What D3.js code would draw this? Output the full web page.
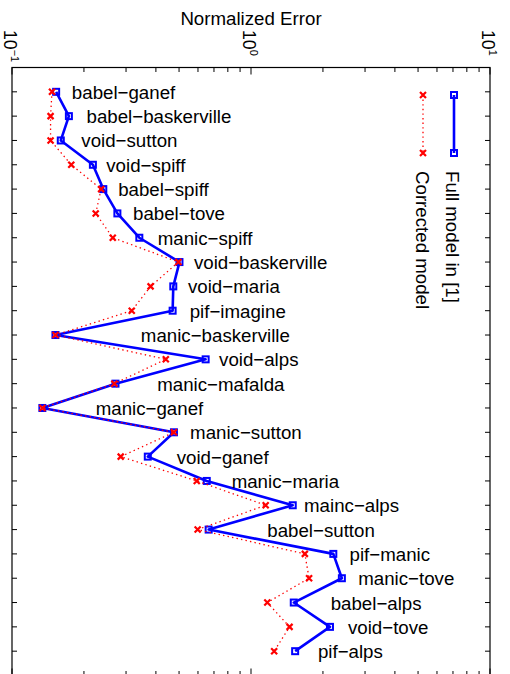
<!DOCTYPE html>
<html>
<head>
<meta charset="utf-8">
<script src="https://cdn.jsdelivr.net/npm/d3@7"></script>
<style>
  html, body { margin: 0; padding: 0; background: #fff; }
  svg { display: block; }
  text { font-family: "Liberation Sans", Arial, Helvetica, sans-serif; fill: #000; }
</style>
</head>
<body>
<svg id="chart" width="510" height="674"></svg>
<script>
// font pairs, top to bottom
const pairs = [
  'babel−ganef', 'babel−baskerville', 'void−sutton', 'void−spiff', 'babel−spiff',
  'babel−tove', 'manic−spiff', 'void−baskerville', 'void−maria', 'pif−imagine',
  'manic−baskerville', 'void−alps', 'manic−mafalda', 'manic−ganef', 'manic−sutton',
  'void−ganef', 'manic−maria', 'mainc−alps', 'babel−sutton', 'pif−manic',
  'manic−tove', 'babel−alps', 'void−tove', 'pif−alps',
];

// "Full model in [1]"
const fullModel = [
  0.153, 0.173, 0.160, 0.218, 0.241, 0.276, 0.341, 0.502, 0.473, 0.470,
  0.152, 0.646, 0.271, 0.134, 0.476, 0.370, 0.653, 1.495, 0.665, 2.21,
  2.40, 1.51, 2.14, 1.53,
];

// "Corrected model"
const corrected = [
  0.147, 0.145, 0.145, 0.177, 0.236, 0.224, 0.264, 0.497, 0.380, 0.317,
  0.152, 0.440, 0.268, 0.134, 0.476, 0.285, 0.593, 1.152, 0.598, 1.68,
  1.75, 1.17, 1.45, 1.25,
];

// where each pair name was written, in error units (like text(x, y, ...))
const labelAt = [
  0.178, 0.205, 0.195, 0.248, 0.278, 0.321, 0.407, 0.577, 0.545, 0.554,
  0.346, 0.735, 0.405, 0.224, 0.556, 0.489, 0.830, 1.667, 1.170, 2.585,
  2.81, 2.155, 2.545, 1.905,
];

const majorTicks = [0.1, 1, 10];
const majorExp = ['−1', '0', '1'];
const minorTicks = [0.2, 0.3, 0.4, 0.5, 0.6, 0.7, 0.8, 0.9, 2, 3, 4, 5, 6, 7, 8, 9];

const FONT = 18.7;
const box = { left: 12, right: 490, top: 67.5, bottom: 675.5 };

const svg = d3.select('#chart');

const x = d3.scaleLog().domain([0.1, 10]).range([box.left, box.right]);
const y = d3.scaleLinear().domain([0, pairs.length + 1]).range([box.top, box.bottom]);
const rows = d3.range(1, pairs.length + 1);

// axes box
svg.append('rect')
  .attr('x', box.left).attr('y', box.top)
  .attr('width', box.right - box.left).attr('height', box.bottom - box.top)
  .attr('fill', 'none').attr('stroke', '#000').attr('stroke-width', 1.2);

// inward ticks, all four sides
const ticks = svg.append('g').attr('stroke', '#000').attr('stroke-width', 1);
const addX = (vals, len) => {
  ticks.selectAll(null).data(vals).enter().append('line')
    .attr('x1', d => x(d)).attr('x2', d => x(d))
    .attr('y1', box.top).attr('y2', box.top + len);
  ticks.selectAll(null).data(vals).enter().append('line')
    .attr('x1', d => x(d)).attr('x2', d => x(d))
    .attr('y1', box.bottom).attr('y2', box.bottom - len);
};
addX(minorTicks, 4.5);
addX(majorTicks, 7);
ticks.selectAll(null).data(rows).enter().append('line')
  .attr('x1', box.left).attr('x2', box.left + 5)
  .attr('y1', d => y(d)).attr('y2', d => y(d));
ticks.selectAll(null).data(rows).enter().append('line')
  .attr('x1', box.right).attr('x2', box.right - 5)
  .attr('y1', d => y(d)).attr('y2', d => y(d));

// rotated 10^n tick labels
const tl = svg.selectAll('.tl').data(majorTicks).enter().append('text')
  .attr('class', 'tl')
  .attr('transform', d => `translate(${x(d) - 8},30) rotate(90)`)
  .style('font-size', `${FONT - 1}px`);
tl.append('tspan').text('10');
tl.append('tspan').attr('dy', -7).style('font-size', '11px').text((d, i) => majorExp[i]);

svg.append('text')
  .attr('x', (box.left + box.right) / 2).attr('y', 25)
  .attr('text-anchor', 'middle')
  .style('font-size', `${FONT}px`)
  .text('Normalized Error');

// series
const line = vals => d3.line().x(d => x(vals[d - 1])).y(d => y(d))(rows);

svg.append('path')
  .attr('d', line(fullModel))
  .attr('fill', 'none').attr('stroke', '#0000ff').attr('stroke-width', 2.6)
  .attr('stroke-linejoin', 'round');

const square = (g, cx, cy) => g.append('rect')
  .attr('x', cx - 3).attr('y', cy - 3).attr('width', 6).attr('height', 6)
  .attr('fill', 'none').attr('stroke', '#0000ff').attr('stroke-width', 2);

const cross = (g, cx, cy) => g.append('path')
  .attr('d', `M${cx - 3},${cy - 3}L${cx + 3},${cy + 3}M${cx - 3},${cy + 3}L${cx + 3},${cy - 3}`)
  .attr('stroke', '#ff0000').attr('stroke-width', 2.2).attr('fill', 'none');

const blue = svg.append('g');
rows.forEach(r => square(blue, x(fullModel[r - 1]), y(r)));

svg.append('path')
  .attr('d', line(corrected))
  .attr('fill', 'none').attr('stroke', '#ff0000').attr('stroke-width', 1.3)
  .attr('stroke-dasharray', '1.4 3.2');

const red = svg.append('g');
rows.forEach(r => cross(red, x(corrected[r - 1]), y(r)));

// pair names
svg.selectAll('.pair').data(rows).enter().append('text')
  .attr('class', 'pair')
  .attr('x', d => x(labelAt[d - 1]))
  .attr('y', d => y(d) + 7)
  .style('font-size', `${FONT}px`)
  .text(d => pairs[d - 1]);

// legend (rotated like the rest of the figure, no frame)
const leg = svg.append('g');
const ly1 = 95, ly2 = 153;
leg.append('line')
  .attr('x1', 454).attr('x2', 454).attr('y1', ly1).attr('y2', ly2)
  .attr('stroke', '#0000ff').attr('stroke-width', 2.6);
square(leg, 454, ly1);
square(leg, 454, ly2);
leg.append('line')
  .attr('x1', 423).attr('x2', 423).attr('y1', ly1).attr('y2', ly2)
  .attr('stroke', '#ff0000').attr('stroke-width', 1.3).attr('stroke-dasharray', '1.4 3.2');
cross(leg, 423, ly1);
cross(leg, 423, ly2);

[['Full model in [1]', 445.5], ['Corrected model', 415.5]].forEach(([t, bx]) => {
  leg.append('text')
    .attr('transform', `translate(${bx},171) rotate(90)`)
    .style('font-size', `${FONT}px`)
    .text(t);
});
</script>
</body>
</html>
